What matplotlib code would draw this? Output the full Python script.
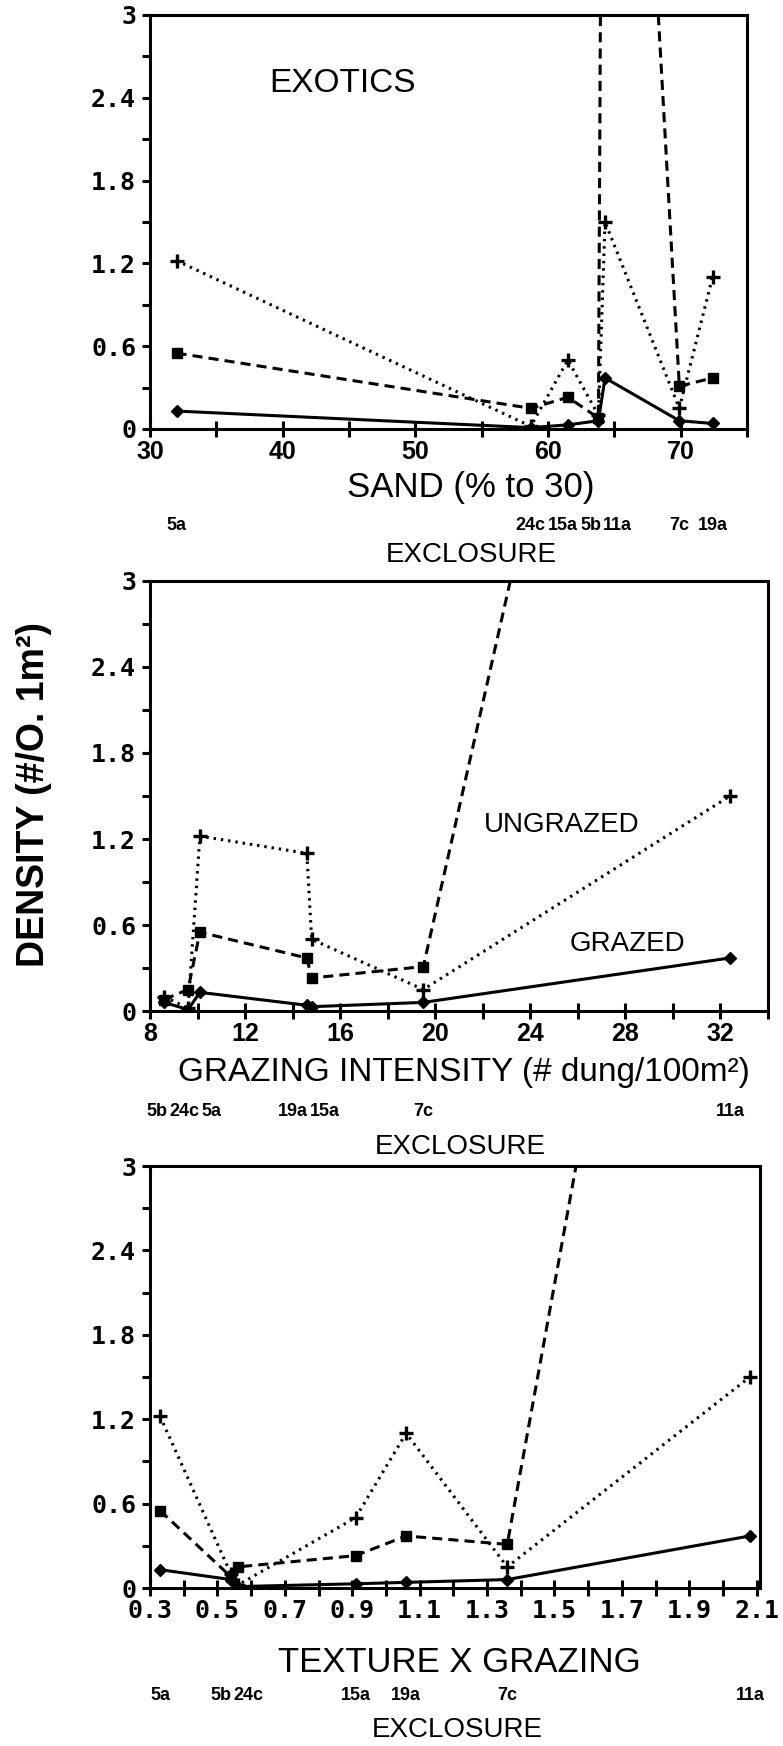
import numpy as np
import matplotlib.pyplot as plt
from matplotlib.ticker import MultipleLocator, FormatStrFormatter
from matplotlib.transforms import blended_transform_factory

# exclosure sites and the three explanatory variables
sites = ['5a', '5b', '24c', '15a', '11a', '7c', '19a']
sand = [32.0, 63.8, 58.7, 61.5, 64.3, 69.9, 72.4]
grazing = [10.1, 8.6, 9.6, 14.8, 32.4, 19.5, 14.6]
texture_x_grazing = [0.33, 0.54, 0.56, 0.91, 2.08, 1.36, 1.06]

# exotic plant density (#/0.1 m2)
grazed = [0.13, 0.06, 0.01, 0.03, 0.37, 0.06, 0.04]
ungrazed = [1.22, 0.10, 0.02, 0.50, 1.50, 0.15, 1.10]
series3 = [0.55, 0.08, 0.15, 0.23, 9.8, 0.31, 0.37]

W, H = 783, 1746
SANS = ['Liberation Sans', 'DejaVu Sans']
MONO = ['DejaVu Sans Mono']

fig = plt.figure(figsize=(W / 100, H / 100), dpi=100)


def box(left, top, right, bottom):
    return [left / W, 1 - bottom / H, (right - left) / W, (bottom - top) / H]


def ftext(px, py, s, **kw):
    fig.text(px / W, 1 - py / H, s, ha='center', va='center', **kw)


def panel(rect, x, xlim, major, minor, fmt, xfont):
    ax = fig.add_axes(rect)
    order = np.argsort(x)
    xs = np.asarray(x)[order]
    ax.plot(xs, np.asarray(ungrazed)[order], color='black', lw=2.2,
            ls=(0, (0.8, 1.6)), marker='+', ms=10, mew=2.4)
    ax.plot(xs, np.asarray(series3)[order], color='black', lw=2.2,
            ls=(0, (3.3, 2.0)), marker='s', ms=7)
    ax.plot(xs, np.asarray(grazed)[order], color='black', lw=2.2,
            ls='-', marker='D', ms=6)
    ax.set_xlim(*xlim)
    ax.set_ylim(0, 3)
    ax.xaxis.set_major_locator(MultipleLocator(major))
    ax.xaxis.set_minor_locator(MultipleLocator(minor))
    ax.xaxis.set_major_formatter(FormatStrFormatter(fmt))
    ax.yaxis.set_major_locator(MultipleLocator(0.6))
    ax.yaxis.set_minor_locator(MultipleLocator(0.3))
    ax.yaxis.set_major_formatter(FormatStrFormatter('%g'))
    for s in ax.spines.values():
        s.set_linewidth(2.2)
    ax.tick_params(axis='x', which='both', direction='inout', length=12,
                   width=2.2, pad=2)
    ax.tick_params(axis='y', which='both', direction='out', length=6,
                   width=2.2, pad=4)
    for lab in ax.get_yticklabels():
        lab.set_fontfamily(MONO)
        lab.set_fontweight('bold')
        lab.set_fontsize(18)
    for lab in ax.get_xticklabels():
        lab.set_fontfamily(xfont)
        lab.set_fontweight('bold')
        lab.set_fontsize(18)
    return ax


def site_row(ax, x, py):
    # site names under the axis, spread apart where they crowd together
    tr = blended_transform_factory(ax.transData, fig.transFigure)
    texts = [ax.text(xi, 1 - py / H, s, transform=tr, ha='center',
                     va='center', fontsize=13, fontweight='bold',
                     family=SANS) for xi, s in zip(x, sites)]
    r = fig.canvas.get_renderer()
    widths = np.array([t.get_window_extent(r).width for t in texts])
    cx = np.array([ax.transData.transform((xi, 0))[0] for xi in x])
    order = np.argsort(cx)
    gap = 2.0
    for _ in range(200):
        moved = False
        for a, b in zip(order[:-1], order[1:]):
            need = (widths[a] + widths[b]) / 2 + gap - (cx[b] - cx[a])
            if need > 0.01:
                cx[a] -= need / 2
                cx[b] += need / 2
                moved = True
        if not moved:
            break
    inv = ax.transData.inverted()
    for t, c in zip(texts, cx):
        t.set_x(inv.transform((c, 0))[0])


ax1 = panel(box(150, 15, 747, 429), sand, (30, 75), 10, 5, '%d', SANS)
ax2 = panel(box(150, 581, 768, 1011), grazing, (8, 34), 4, 2, '%d', SANS)
ax3 = panel(box(150, 1166, 760, 1588), texture_x_grazing, (0.3, 2.11),
            0.2, 0.1, '%.1f', MONO)
ax3.xaxis.set_major_locator(plt.FixedLocator(np.arange(0.3, 2.11, 0.2)))
for lab in ax3.get_xticklabels():
    lab.set_fontfamily(MONO)
    lab.set_fontweight('bold')
    lab.set_fontsize(18)

ax1.text(44.5, 2.5, 'EXOTICS', ha='center', va='center', fontsize=24,
         family=SANS)
ax2.text(25.3, 1.30, 'UNGRAZED', ha='center', va='center', fontsize=20,
         family=SANS)
ax2.text(28.1, 0.47, 'GRAZED', ha='center', va='center', fontsize=20,
         family=SANS)

ftext(471, 488, 'SAND (% to 30)', fontsize=25, family=SANS)
ftext(471, 555, 'EXCLOSURE', fontsize=20, family=SANS)
ftext(464, 1072, 'GRAZING INTENSITY (# dung/100m²)', fontsize=24, family=SANS)
ftext(460, 1147, 'EXCLOSURE', fontsize=20, family=SANS)
ftext(459, 1663, 'TEXTURE X GRAZING', fontsize=25, family=SANS)
ftext(457, 1730, 'EXCLOSURE', fontsize=20, family=SANS)
ftext(34, 795, 'DENSITY (#/O. 1m²)', fontsize=27, fontweight='bold',
      family=SANS, rotation=90)

site_row(ax1, sand, 525)
site_row(ax2, grazing, 1112)
site_row(ax3, texture_x_grazing, 1695)

fig.savefig('out.png', dpi=100)
